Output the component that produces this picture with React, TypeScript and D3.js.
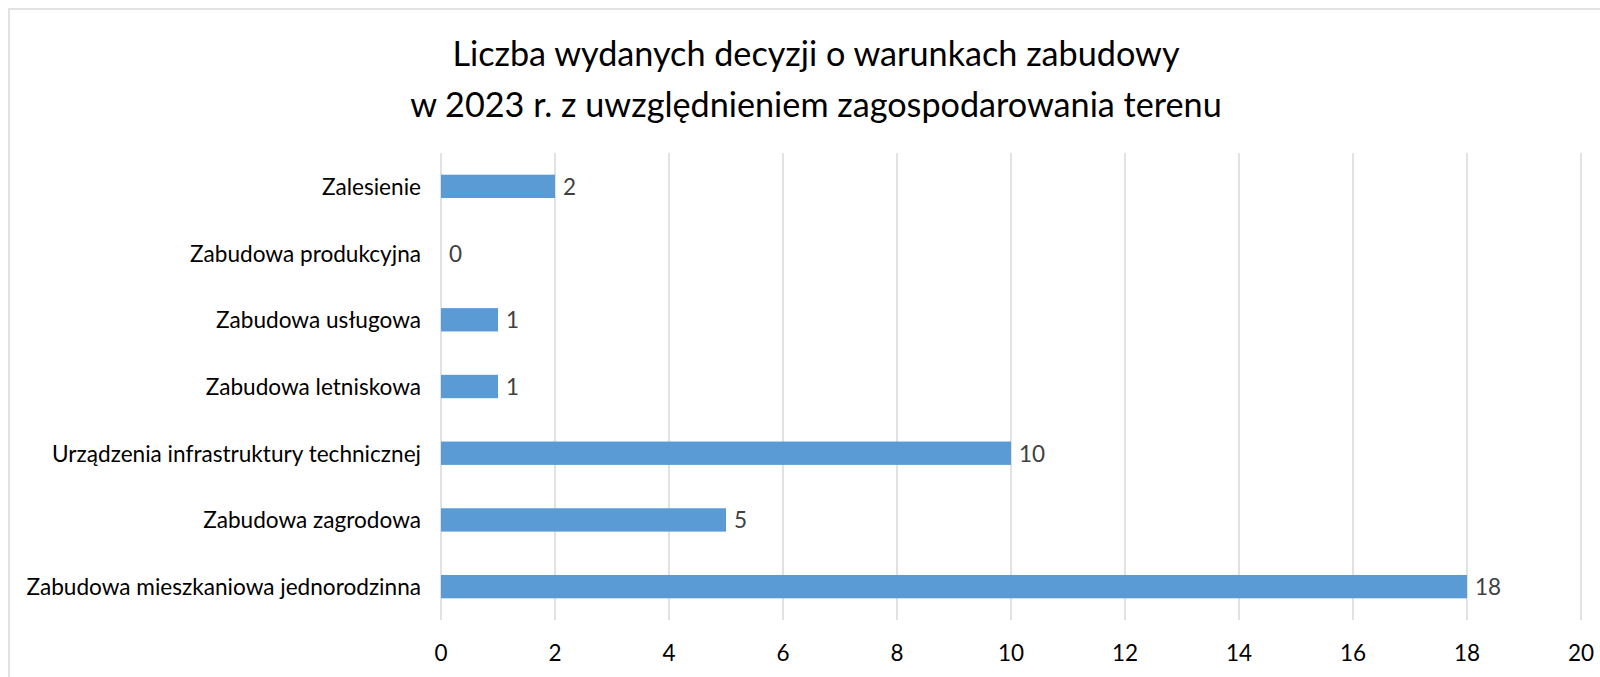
import React from "react";
import * as d3 from "d3";

const categories = [
  "Zalesienie",
  "Zabudowa produkcyjna",
  "Zabudowa usługowa",
  "Zabudowa letniskowa",
  "Urządzenia infrastruktury technicznej",
  "Zabudowa zagrodowa",
  "Zabudowa mieszkaniowa jednorodzinna",
];
const values = [2, 0, 1, 1, 10, 5, 18];
const xTicks = [0, 2, 4, 6, 8, 10, 12, 14, 16, 18, 20];
const titleLines = [
  "Liczba wydanych decyzji o warunkach zabudowy",
  "w 2023 r. z uwzględnieniem zagospodarowania terenu",
];

const W = 1600;
const H = 677;
const FONT = "Lato, 'Noto Sans', sans-serif";

export default function App() {
  const x = d3.scaleLinear().domain([0, 20]).range([441, 1581]);
  const y = d3
    .scaleBand<string>()
    .domain(categories)
    .range([153, 620])
    .paddingInner(0.65)
    .paddingOuter(0.325);

  return (
    <svg
      width={W}
      height={H}
      style={{ position: "fixed", left: 0, top: 0, background: "#fff" }}
      fontFamily={FONT}
    >
      <rect x={9} y={9} width={W} height={H + 20} fill="#fff" stroke="#D9D9D9" strokeWidth={1.5} />
      {titleLines.map((t, i) => (
        <text
          key={i}
          x={816}
          y={52 + i * 51}
          textAnchor="middle"
          dominantBaseline="central"
          fontSize={34.2}
          fill="#000"
        >
          {t}
        </text>
      ))}
      {xTicks.map((t) => (
        <g key={t}>
          <line x1={x(t)} x2={x(t)} y1={153} y2={620} stroke="#D9D9D9" strokeWidth={1.5} />
          <text
            x={x(t)}
            y={652}
            textAnchor="middle"
            dominantBaseline="central"
            fontSize={22.5}
            fill="#000"
          >
            {t}
          </text>
        </g>
      ))}
      {categories.map((c, i) => {
        const yc = (y(c) ?? 0) + y.bandwidth() / 2;
        return (
          <g key={c}>
            <rect
              x={x(0)}
              y={y(c)}
              width={x(values[i]) - x(0)}
              height={y.bandwidth()}
              fill="#5B9BD5"
            />
            <text
              x={421}
              y={yc}
              textAnchor="end"
              dominantBaseline="central"
              fontSize={22.6}
              fill="#000"
            >
              {c}
            </text>
            <text
              x={x(values[i]) + 8}
              y={yc}
              dominantBaseline="central"
              fontSize={22.5}
              fill="#404040"
            >
              {values[i]}
            </text>
          </g>
        );
      })}
    </svg>
  );
}
